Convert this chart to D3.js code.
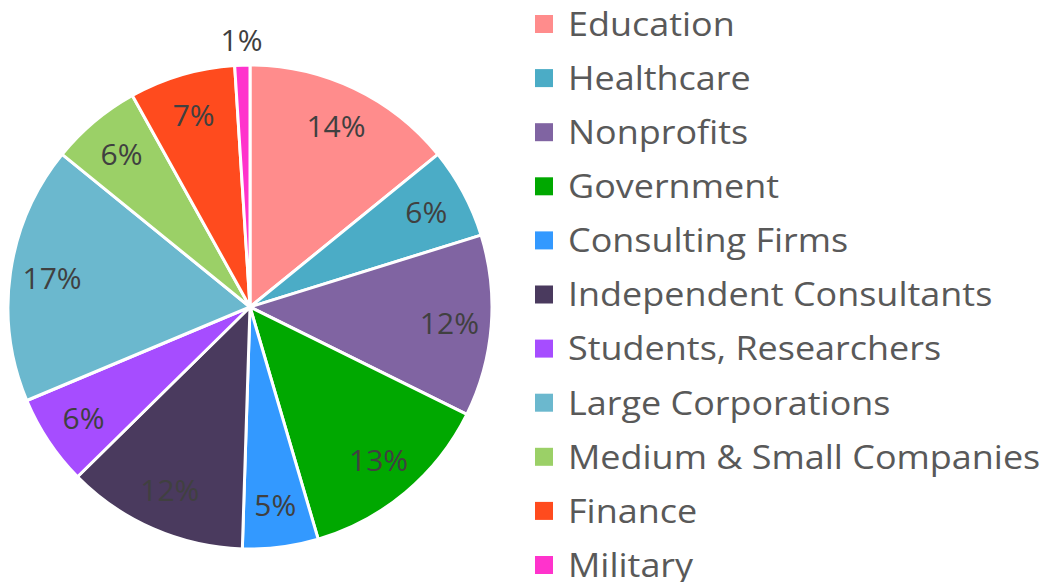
<!DOCTYPE html>
<html>
<head>
<meta charset="utf-8">
<script src="https://cdn.jsdelivr.net/npm/d3@7"></script>
<style>
  body { margin: 0; background: #fff; }
  svg { display: block; }
</style>
</head>
<body>
<div id="chart"></div>
<script>
// data (percent of respondents)
const categories = ['Education', 'Healthcare', 'Nonprofits', 'Government', 'Consulting Firms',
  'Independent Consultants', 'Students, Researchers', 'Large Corporations',
  'Medium & Small Companies', 'Finance', 'Military'];
const values = [14, 6, 12, 13, 5, 12, 6, 17, 6, 7, 1];
const colors = ['#ff8c8c', '#4bacc6', '#8064a2', '#00a800', '#3399ff',
  '#4a3a5e', '#a64dff', '#6bb8ce', '#9bd067', '#ff4b1e', '#ff33cc'];

const width = 1048, height = 582;
const cx = 250, cy = 307, radius = 242;

const data = categories.map((c, i) => ({ name: c, value: values[i], color: colors[i] }));

const svg = d3.select('#chart').append('svg')
  .attr('width', width)
  .attr('height', height);

const pie = d3.pie().value(d => d.value).sort(null);
const arc = d3.arc().innerRadius(0).outerRadius(radius);
const labelArc = d3.arc().innerRadius(200).outerRadius(200);
const outerArc = d3.arc().innerRadius(267).outerRadius(267);

const g = svg.append('g').attr('transform', `translate(${cx},${cy})`);

const arcs = pie(data);

g.selectAll('path')
  .data(arcs)
  .join('path')
  .attr('d', arc)
  .attr('fill', d => d.data.color)
  .attr('stroke', '#fff')
  .attr('stroke-width', 3)
  .attr('stroke-linejoin', 'round');

// percentage labels; the tiny slice gets its label outside
g.selectAll('text.pct')
  .data(arcs)
  .join('text')
  .attr('class', 'pct')
  .attr('transform', d => `translate(${(d.data.value < 3 ? outerArc : labelArc).centroid(d)})`)
  .attr('text-anchor', 'middle')
  .attr('dy', '0.36em')
  .style('font-family', '"Open Sans", sans-serif')
  .style('font-size', '30px')
  .style('fill', '#404040')
  .text(d => d.data.value + '%');

// legend
const legend = svg.append('g').attr('transform', 'translate(535,24)');
const rowH = 54.1;

const rows = legend.selectAll('g')
  .data(data)
  .join('g')
  .attr('transform', (d, i) => `translate(0,${i * rowH})`);

rows.append('rect')
  .attr('x', 0)
  .attr('y', -9)
  .attr('width', 18)
  .attr('height', 18)
  .attr('fill', d => d.color);

// the reference type is a bit wider than Open Sans, so stretch it a little
rows.append('text')
  .attr('transform', 'translate(33,0) scale(1.09,1)')
  .attr('dy', '0.36em')
  .style('font-family', '"Open Sans", sans-serif')
  .style('font-size', '33px')
  .style('fill', '#595959')
  .text(d => d.name);
</script>
</body>
</html>
